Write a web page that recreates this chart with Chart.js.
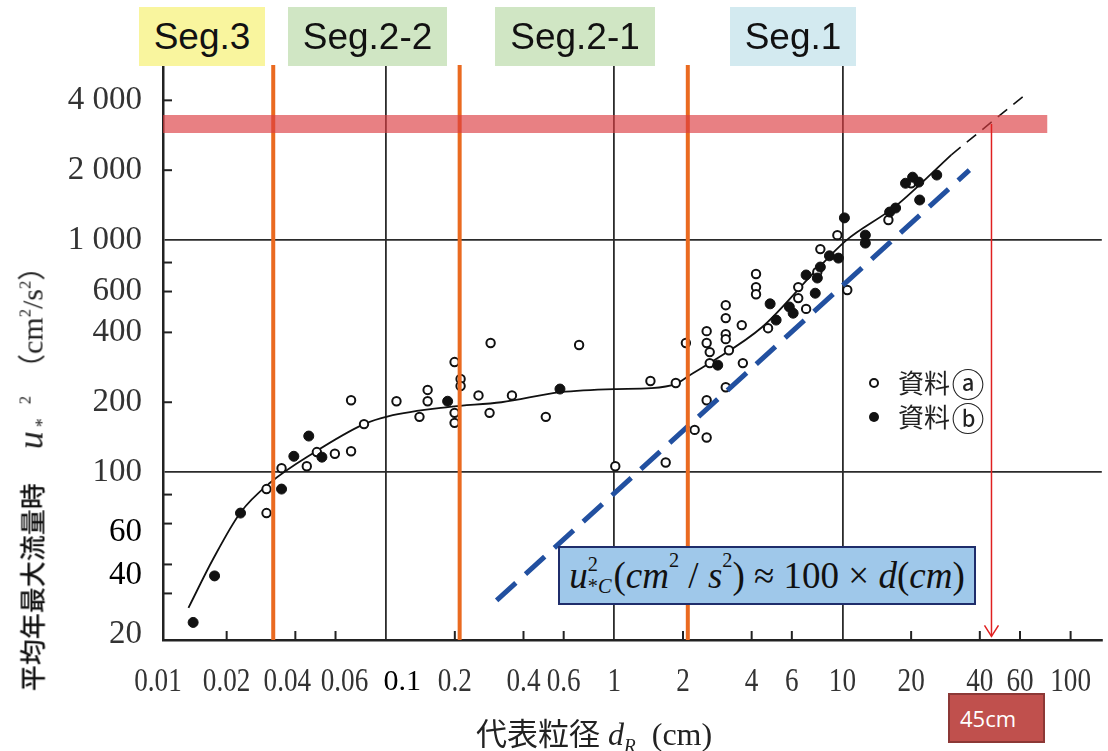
<!DOCTYPE html>
<html>
<head>
<meta charset="utf-8">
<script src="https://cdn.jsdelivr.net/npm/chart.js@4/dist/chart.umd.min.js"></script>
<style>
body { margin: 0; background: #fff; }
#wrap { position: relative; width: 1108px; height: 751px; overflow: hidden; }
canvas { position: absolute; left: 0; top: 0; }
.seg { position: absolute; top: 7px; height: 59px; font: 37px "Liberation Sans", Arial, sans-serif; color: #111;
       display: flex; align-items: center; justify-content: center; }
#formula { position: absolute; left: 558px; top: 546px; width: 414px; height: 55px; background: #9fc8ea;
           border: 2.5px solid #1f2d6b; font: 37px "Liberation Serif", serif; color: #111;
           display: flex; align-items: center; justify-content: center; white-space: nowrap; }
#formula i { font-style: italic; }
.up { font-size: 0.55em; position: relative; top: -0.75em; }
.stk { display: inline-flex; flex-direction: column; font-size: 0.55em; line-height: 1.05; vertical-align: middle; margin-right: 2px; }
#cm45 { position: absolute; left: 948px; top: 693px; width: 83px; height: 46px; background: #c0504d; border: 2px solid #8c3836;
        color: #fff; font: 22px "Open Sans", sans-serif; line-height: 46px; padding-left: 10px; }
#xtitle { position: absolute; left: 476px; top: 712px; font: 32px "Liberation Serif", serif; color: #222; white-space: nowrap; line-height: 40px; }
#xtitle .cjk { font-family: "Noto Sans CJK JP", sans-serif; font-size: 31px; }
#ytitle { position: absolute; left: 34px; top: 472px; transform: translate(-50%, -50%) rotate(-90deg);
          font: 30px "Liberation Serif", serif; color: #222; white-space: nowrap; line-height: 36px; }
#ytitle .cjk { font-family: "Noto Sans CJK JP", sans-serif; font-size: 26px; font-weight: 500; color: #111; margin-right: 34px; }
#ytitle .par { font-family: "Noto Sans CJK JP", sans-serif; font-size: 28px; }
.dn { font-size: 0.6em; position: relative; top: 0.35em; }
</style>
</head>
<body>
<div id="wrap">
  <canvas id="chart" width="1108" height="751"></canvas>
  <div class="seg" style="left:139px;width:126px;background:#f9f59e;">Seg.3</div>
  <div class="seg" style="left:288px;width:159px;background:#d0e6c4;">Seg.2-2</div>
  <div class="seg" style="left:495px;width:160px;background:#d0e6c4;">Seg.2-1</div>
  <div class="seg" style="left:730px;width:126px;background:#d3eaf0;">Seg.1</div>
  <div id="formula"><i>u</i><span class="stk"><span>2</span><span>*<i>C</i></span></span>(<i>cm</i><span class="up">2</span>&nbsp;/&nbsp;<i>s</i><span class="up">2</span>)&nbsp;≈&nbsp;100&nbsp;×&nbsp;<i>d</i>(<i>cm</i>)</div>
  <div id="cm45">45cm</div>
  <div id="xtitle"><span class="cjk">代表粒径</span> <i>d<span class="dn">R</span></i>&nbsp;&nbsp;(cm)</div>
  <div id="ytitle"><span class="cjk">平均年最大流量時</span><i style="font-size:36px">u</i><span class="dn" style="margin-left:4px">*</span><span class="up" style="margin-left:14px">2</span><span class="par" style="margin-left:14px">（</span>cm<span class="up">2</span>/s<span class="up">2</span><span class="par">）</span></div>
</div>
<script>
// axis ranges (log scales)
const xMin = 0.01052, xMax = 137;
const yMin = 18.9, yMax = 5680;

// tick labels and inward minor ticks
const xTickValues = [0.01, 0.02, 0.04, 0.06, 0.1, 0.2, 0.4, 0.6, 1, 2, 4, 6, 10, 20, 40, 60, 100];
const xTickText = ['0.01', '0.02', '0.04', '0.06', '0.1', '0.2', '0.4', '0.6', '1', '2', '4', '6', '10', '20', '40', '60', '100'];
const yTickValues = [20, 40, 60, 100, 200, 400, 600, 1000, 2000, 4000];
const yTickText = ['20', '40', '60', '100', '200', '400', '600', '1 000', '2 000', '4 000'];
const xMinor = [0.02, 0.04, 0.06, 0.2, 0.4, 0.6, 2, 4, 6, 20, 40, 60, 100];
const yMinor = [30, 40, 60, 80, 200, 400, 600, 800, 2000, 4000];
const xGrid = [0.1, 1, 10];
const yGrid = [100, 1000];

// 資料a (open circles)
const dataA = [
  [0.0299, 66.6], [0.0299, 84.5], [0.0348, 104], [0.0449, 106], [0.0497, 122], [0.0596, 120], [0.0702, 123],
  [0.0702, 204], [0.080, 161], [0.111, 202], [0.140, 173], [0.152, 226], [0.152, 202], [0.1995, 298],
  [0.212, 252], [0.212, 235], [0.1995, 180], [0.1995, 163], [0.287, 360], [0.254, 214], [0.284, 180],
  [0.356, 214], [0.501, 173], [0.701, 353], [1.01, 106], [1.44, 247], [1.86, 242], [2.06, 360], [1.68, 110],
  [2.25, 152], [2.54, 141], [2.54, 204], [3.08, 232], [2.54, 405], [2.54, 360], [2.62, 329], [2.62, 295],
  [3.08, 524], [3.08, 461], [3.08, 393], [3.08, 374], [3.18, 335], [3.62, 430], [3.66, 295], [4.18, 714],
  [4.18, 627], [4.18, 584], [4.72, 417], [6.40, 627], [6.40, 562], [6.93, 505], [7.76, 728], [8.0, 914],
  [9.5, 1050], [10.5, 609], [15.9, 1220], [20.0, 1757]
];
// 資料b (filled circles)
const dataB = [
  [0.01426, 22.5], [0.0177, 35.7], [0.023, 66.6], [0.0348, 84.5], [0.0394, 117], [0.0458, 143], [0.0523, 116],
  [0.186, 202], [0.578, 228], [2.84, 289], [4.82, 531], [5.12, 452], [5.85, 515], [6.08, 484], [6.93, 707],
  [7.6, 590], [7.76, 686], [8.0, 765], [8.77, 855], [9.6, 836], [10.2, 1246], [12.6, 1050], [12.6, 970],
  [16.1, 1320], [17.1, 1374], [18.9, 1757], [20.3, 1866], [21.6, 1777], [21.8, 1488], [25.9, 1906]
];
// hand-drawn fit curve and its dashed extension
const fitCurve = [
  [0.0136, 26], [0.0174, 42], [0.023, 67], [0.031, 90], [0.048, 121], [0.080, 161], [0.102, 174], [0.19, 191],
  [0.32, 200], [0.58, 221], [1.0, 228], [1.45, 230], [1.86, 240], [2.15, 262], [2.62, 295], [4.45, 422],
  [7.46, 720], [10.3, 990], [17.1, 1400], [30, 2330]
];
const fitExtension = [[30, 2330], [63, 4217]];
// u*c^2 = 100 d line (blue dashed)
const criticalLine = [[0.305, 28], [36, 2000]];
// segment boundaries, target band, 45 cm arrow
const segBounds = [0.032, 0.21, 2.1];
const bandLevel = 3162, bandEnd = 79;
const arrowX = 45, arrowTo = 19.6;

const pts = arr => arr.map(p => ({ x: p[0], y: p[1] }));
const orange = '#ea6a20';

const segSets = segBounds.map(v => ({
  data: [{ x: v, y: yMin }, { x: v, y: yMax }], showLine: true, borderColor: orange, borderWidth: 4,
  pointRadius: 0, order: 2
}));

const decor = {
  id: 'decor',
  beforeDatasetsDraw(chart) {
    const { ctx } = chart;
    // legend
    ctx.save();
    ctx.fillStyle = '#222';
    ctx.textBaseline = 'middle';
    ctx.font = '26px "Noto Sans CJK JP", sans-serif';
    ctx.fillText('資料', 898, 383);
    ctx.fillText('資料', 898, 417);
    ctx.textAlign = 'center';
    ctx.font = '33px "Noto Sans CJK JP", sans-serif';
    ctx.fillText('ⓐ', 968, 384);
    ctx.fillText('ⓑ', 968, 418);
    ctx.lineWidth = 2; ctx.strokeStyle = '#111';
    ctx.beginPath(); ctx.arc(874, 383, 4, 0, Math.PI * 2); ctx.fillStyle = '#fff'; ctx.fill(); ctx.stroke();
    ctx.beginPath(); ctx.arc(874, 417, 5, 0, Math.PI * 2); ctx.fillStyle = '#111'; ctx.fill();
    ctx.restore();
  },
  afterDraw(chart) {
    const { ctx, chartArea: a, scales: { x, y } } = chart;
    ctx.save();
    ctx.strokeStyle = '#222'; ctx.lineWidth = 2;
    xMinor.forEach(v => {
      const px = x.getPixelForValue(v);
      ctx.beginPath(); ctx.moveTo(px, a.bottom); ctx.lineTo(px, a.bottom - 9); ctx.stroke();
    });
    yMinor.forEach(v => {
      const py = y.getPixelForValue(v);
      ctx.beginPath(); ctx.moveTo(a.left, py); ctx.lineTo(a.left + 9, py); ctx.stroke();
    });
    // x tick labels (scanned labels are narrow; the retyped ones are plain)
    const xNudge = { 0.04: -8, 0.06: 9, 0.1: 16 };
    ctx.textAlign = 'center'; ctx.textBaseline = 'middle';
    xTickValues.forEach((v, i) => {
      const px = x.getPixelForValue(v) + (xNudge[v] || 0);
      ctx.save();
      ctx.translate(px, a.bottom + 42);
      if (v === 0.1) {
        ctx.fillStyle = '#000'; ctx.font = '30px "Liberation Serif", serif';
      } else {
        ctx.fillStyle = '#333'; ctx.font = '34px "Liberation Serif", serif'; ctx.scale(0.8, 1);
      }
      ctx.fillText(xTickText[i], 0, 0);
      ctx.restore();
    });
    const yNudge = { 60: 9, 40: 11 };
    ctx.textAlign = 'right';
    yTickValues.forEach((v, i) => {
      const py = y.getPixelForValue(v) + (yNudge[v] || 0);
      const retyped = v === 60 || v === 40;
      ctx.fillStyle = retyped ? '#000' : '#333';
      ctx.font = '33px "Liberation Serif", serif';
      ctx.fillText(yTickText[i], 142, py);
    });
    // arrow head of the 45 cm marker
    const ax = x.getPixelForValue(arrowX), ay = y.getPixelForValue(arrowTo);
    ctx.strokeStyle = '#e02020'; ctx.lineWidth = 1.5;
    ctx.beginPath(); ctx.moveTo(ax - 7, ay - 11); ctx.lineTo(ax, ay); ctx.lineTo(ax + 7, ay - 11); ctx.stroke();
    ctx.restore();
  }
};

new Chart(document.getElementById('chart'), {
  type: 'scatter',
  data: {
    datasets: [
      { data: [{ x: arrowX, y: bandLevel }, { x: arrowX, y: arrowTo }], showLine: true, borderColor: '#e02020',
        borderWidth: 1.5, pointRadius: 0, order: 0 },
      { data: [{ x: xMin, y: bandLevel }, { x: bandEnd, y: bandLevel }], showLine: true,
        borderColor: 'rgba(220,60,65,0.65)', borderWidth: 18, borderCapStyle: 'butt', pointRadius: 0, order: 1 },
      ...segSets,
      { data: pts(criticalLine), showLine: true, borderColor: '#2250a0', borderWidth: 5, borderDash: [26, 13],
        pointRadius: 0, order: 3 },
      { data: pts(fitExtension), showLine: true, borderColor: '#111', borderWidth: 1.6, borderDash: [12, 8],
        pointRadius: 0, order: 4 },
      { label: '資料b', data: pts(dataB), pointRadius: 5, pointBackgroundColor: '#111', pointBorderColor: '#111',
        pointBorderWidth: 1, order: 5 },
      { label: '資料a', data: pts(dataA), pointRadius: 4.2, pointBackgroundColor: '#fff', pointBorderColor: '#111',
        pointBorderWidth: 2, order: 6 },
      { data: pts(fitCurve), showLine: true, borderColor: '#111', borderWidth: 1.8, cubicInterpolationMode: 'monotone',
        pointRadius: 0, order: 7 }
    ]
  },
  options: {
    responsive: false,
    devicePixelRatio: 1,
    animation: false,
    layout: { padding: { left: 163, top: 65, right: 0, bottom: 111 } },
    plugins: { legend: { display: false }, tooltip: { enabled: false } },
    scales: {
      x: {
        type: 'logarithmic', min: xMin, max: xMax,
        afterBuildTicks: s => { s.ticks = xGrid.map(v => ({ value: v })); },
        ticks: { display: false },
        grid: { color: '#2b2b2b', lineWidth: 1.8, drawTicks: false },
        border: { display: true, color: '#222', width: 2.5 }
      },
      y: {
        type: 'logarithmic', min: yMin, max: yMax,
        afterBuildTicks: s => { s.ticks = yGrid.map(v => ({ value: v })); },
        ticks: { display: false },
        grid: { color: '#2b2b2b', lineWidth: 1.8, drawTicks: false },
        border: { display: true, color: '#222', width: 2.5 }
      }
    }
  },
  plugins: [decor]
});
</script>
</body>
</html>
